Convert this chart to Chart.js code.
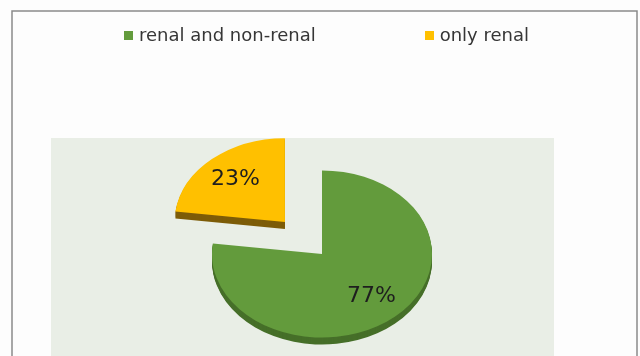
<!DOCTYPE html>
<html>
<head>
<meta charset="utf-8">
<script src="https://cdn.jsdelivr.net/npm/chart.js@4/dist/chart.umd.min.js"></script>
<style>
  body { margin: 0; background: #fff; }
  #wrap { position: relative; width: 640px; height: 356px; }
  #legend {
    position: absolute; left: 124px; top: 24px;
    margin: 0; padding: 0; list-style: none;
    display: flex; gap: 109px;
    font: 18px "DejaVu Sans", Verdana, sans-serif; color: #363636;
  }
  #legend li { display: flex; align-items: center; line-height: 22px; }
  #legend span { width: 9px; height: 9px; margin-right: 6px; display: inline-block; }
</style>
</head>
<body>
<div id="wrap">
  <canvas id="pie" width="640" height="356"></canvas>
  <ul id="legend"></ul>
</div>
<script>
const labels = ['renal and non-renal', 'only renal'];
const shares = [77, 23];
const colors = ['#639b3c', '#ffc000'];
const sideColors = ['#466f29', '#7d5c08'];

const tilt = 0.76;   // vertical squash of the disc
const depth = 7;     // thickness of the disc in px

// white page, thin grey frame and the pale plot panel
const backdrop = {
  id: 'backdrop',
  beforeDraw(chart) {
    const ctx = chart.ctx;
    ctx.save();
    ctx.fillStyle = '#fdfdfd';
    ctx.fillRect(0, 0, chart.width, chart.height);
    ctx.fillStyle = '#e9eee6';
    ctx.fillRect(51, 138, 503, 218);
    ctx.strokeStyle = '#8a8a8a';
    ctx.lineWidth = 1.5;
    ctx.beginPath();
    ctx.moveTo(12, chart.height);
    ctx.lineTo(12, 11);
    ctx.lineTo(637, 11);
    ctx.lineTo(637, chart.height);
    ctx.stroke();
    ctx.restore();
  }
};

function squash(ctx, cy, shift) {
  ctx.translate(0, cy + shift);
  ctx.scale(1, tilt);
  ctx.translate(0, -cy);
}

// flattens the pie into an ellipse and stacks darker copies under it as the side wall
const tiltedPie = {
  id: 'tiltedPie',
  beforeDatasetsDraw(chart) {
    const ctx = chart.ctx;
    const arcs = chart.getDatasetMeta(0).data;
    const cy = arcs[0].y;
    for (let d = depth; d > 0; d--) {
      ctx.save();
      squash(ctx, cy, d);
      arcs.forEach((arc, i) => {
        const side = Object.create(arc);
        side.options = {...arc.options, backgroundColor: sideColors[i], borderWidth: 0};
        side.draw(ctx);
      });
      ctx.restore();
    }
    ctx.save();
    squash(ctx, cy, 0);
  },
  afterDatasetsDraw(chart) {
    const ctx = chart.ctx;
    ctx.restore();
    const arcs = chart.getDatasetMeta(0).data;
    ctx.save();
    ctx.font = '22px "DejaVu Sans", Verdana, sans-serif';
    ctx.fillStyle = '#1e1e1e';
    ctx.textAlign = 'center';
    ctx.textBaseline = 'middle';
    arcs.forEach((arc, i) => {
      const mid = (arc.startAngle + arc.endAngle) / 2;
      const r = arc.outerRadius * 0.68 + (arc.options.offset || 0) / 4;
      const x = arc.x + Math.cos(mid) * r;
      const y = arc.y + Math.sin(mid) * r * tilt;
      ctx.fillText(shares[i] + '%', x, y);
    });
    ctx.restore();
  }
};

const chart = new Chart(document.getElementById('pie'), {
  type: 'pie',
  data: {
    labels: labels,
    datasets: [{
      data: shares,
      backgroundColor: colors,
      borderWidth: 0,
      offset: [0, 224],
      clip: false
    }]
  },
  options: {
    responsive: false,
    animation: false,
    events: [],
    radius: 110,
    cutout: '0%',
    layout: { padding: { left: 4, right: 0, top: 152, bottom: 0 } },
    plugins: {
      legend: { display: false },
      tooltip: { enabled: false }
    }
  },
  plugins: [backdrop, tiltedPie]
});

// legend built from the chart's own labels and colours
const legend = document.getElementById('legend');
chart.data.labels.forEach((text, i) => {
  const li = document.createElement('li');
  const box = document.createElement('span');
  box.style.background = chart.data.datasets[0].backgroundColor[i];
  li.appendChild(box);
  li.appendChild(document.createTextNode(text));
  legend.appendChild(li);
});
</script>
</body>
</html>
